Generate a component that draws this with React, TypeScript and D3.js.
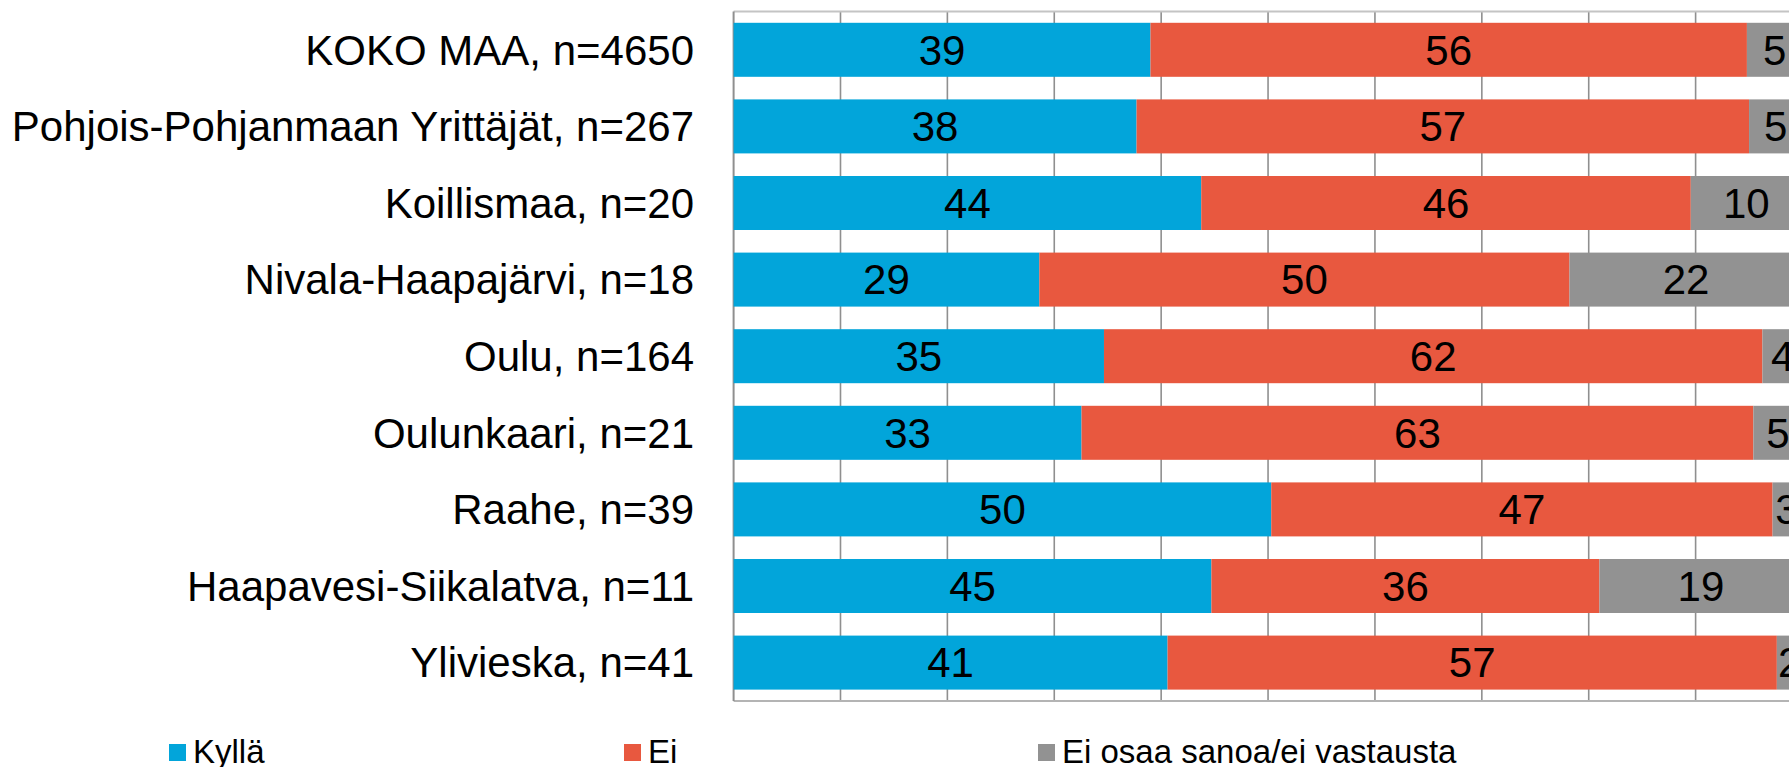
import React from "react";
import * as d3 from "d3";

const categories = [
  "KOKO MAA, n=4650",
  "Pohjois-Pohjanmaan Yrittäjät, n=267",
  "Koillismaa, n=20",
  "Nivala-Haapajärvi, n=18",
  "Oulu, n=164",
  "Oulunkaari, n=21",
  "Raahe, n=39",
  "Haapavesi-Siikalatva, n=11",
  "Ylivieska, n=41",
];
const kylla = [39.0, 37.7, 43.75, 28.6, 34.65, 32.55, 50.3, 44.7, 40.6];
const ei = [55.8, 57.3, 45.8, 49.6, 61.6, 62.85, 46.9, 36.3, 57.0];
const eiOsaa = [5.2, 5.0, 10.4, 21.8, 3.8, 4.6, 2.7, 19.0, 2.4];
const seriesNames = ["Kyllä", "Ei", "Ei osaa sanoa/ei vastausta"];
const xTicks = [0, 10, 20, 30, 40, 50, 60, 70, 80, 90, 100];

const colors = ["#02A5DA", "#E8583F", "#929292"];

const W = 1789;
const H = 767;
const FONT = "'Liberation Sans', Arial, Helvetica, sans-serif";

export default function App() {
  const x = d3.scaleLinear().domain([0, 100]).range([733.6, 1802.5]);
  const y = d3
    .scaleBand<string>()
    .domain(categories)
    .range([11.5, 700.9])
    .paddingInner(0.295)
    .paddingOuter(0.1475);

  const rows = categories.map((c, i) => ({
    cat: c,
    k0: kylla[i],
    k1: ei[i],
    k2: eiOsaa[i],
  }));
  const stack = d3.stack<any>().keys(["k0", "k1", "k2"]);
  const series = stack(rows);

  const [top, bottom] = y.range();
  const left = x(0);
  const legendX = [169, 624, 1038];

  return (
    <svg
      width={W}
      height={H}
      style={{ position: "absolute", left: 0, top: 0, background: "#fff" }}
      fontFamily={FONT}
    >
      <rect x={0} y={0} width={W} height={H} fill="#fff" />
      {/* gridlines */}
      {xTicks.slice(1).map((t) => (
        <line
          key={t}
          x1={x(t)}
          x2={x(t)}
          y1={top}
          y2={bottom}
          stroke="#8f8f8f"
          strokeWidth={1.6}
        />
      ))}
      {/* plot borders */}
      <line x1={left} x2={W} y1={top} y2={top} stroke="#c4c4c4" strokeWidth={2} />
      <line x1={left} x2={W} y1={bottom} y2={bottom} stroke="#b4b4b4" strokeWidth={2} />
      <line x1={left} x2={left} y1={top} y2={bottom} stroke="#8f8f8f" strokeWidth={2} />

      {/* bars */}
      {series.map((s, si) =>
        s.map((d, i) => (
          <rect
            key={`${si}-${i}`}
            x={x(d[0])}
            y={y(categories[i])}
            width={x(d[1]) - x(d[0])}
            height={y.bandwidth()}
            fill={colors[si]}
          />
        ))
      )}
      {/* value labels */}
      {series.map((s, si) =>
        s.map((d, i) => (
          <text
            key={`t${si}-${i}`}
            x={(x(d[0]) + x(d[1])) / 2}
            y={(y(categories[i]) as number) + y.bandwidth() / 2}
            dy="0.35em"
            textAnchor="middle"
            fontSize={42}
            fill="#000"
          >
            {Math.round(d[1] - d[0])}
          </text>
        ))
      )}
      {/* category labels */}
      {categories.map((c) => (
        <text
          key={c}
          x={694}
          y={(y(c) as number) + y.bandwidth() / 2}
          dy="0.35em"
          textAnchor="end"
          fontSize={42}
          fill="#000"
        >
          {c}
        </text>
      ))}
      {/* legend */}
      {seriesNames.map((n, i) => (
        <g key={n}>
          <rect x={legendX[i]} y={744} width={17} height={17} fill={colors[i]} />
          <text x={legendX[i] + 24} y={763} fontSize={33} fill="#000">
            {n}
          </text>
        </g>
      ))}
    </svg>
  );
}
